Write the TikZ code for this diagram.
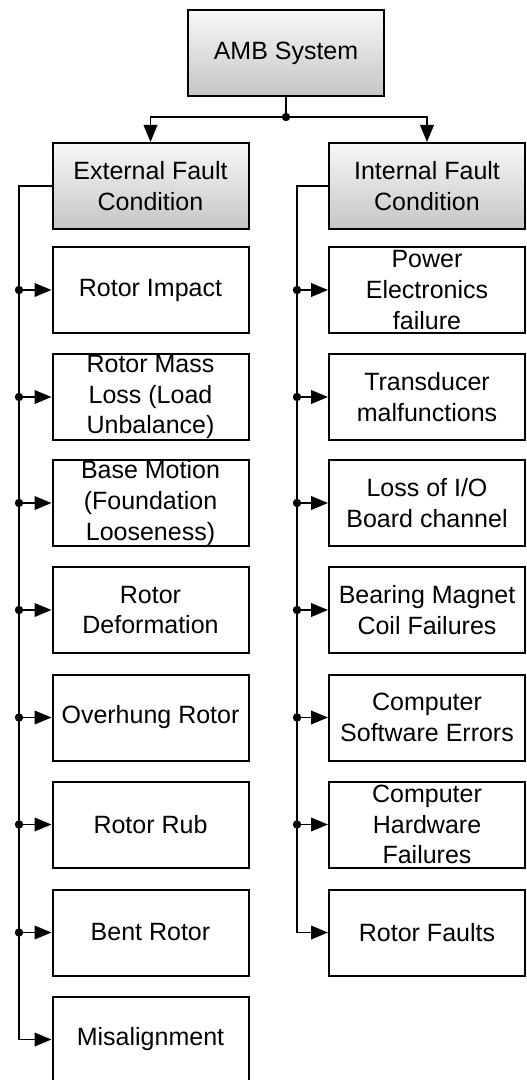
\documentclass[tikz,border=0pt]{standalone}
\usepackage{fontspec}
\setmainfont{Liberation Sans}
\usetikzlibrary{arrows.meta,calc}
\begin{document}
\begin{tikzpicture}[x=0.5pt,y=-0.5pt,
  box/.style={draw=black, line width=1pt, fill=white, minimum width=98pt, minimum height=43pt,
    inner sep=0pt, align=center, font=\fontsize{12.5pt}{15.4pt}\selectfont},
  gbox/.style={box, top color=gray!6, bottom color=gray!45},
  conn/.style={line width=0.95pt, draw=black},
  arr/.style={conn, -{Triangle[length=8.5pt,width=6.8pt]}},
  dot/.style={fill=black, circle, inner sep=0pt, minimum size=4.2pt}
]
\useasboundingbox (0,0) rectangle (526,1080);

\node[gbox] (amb) at (286,53) {AMB System};
\node[gbox] (ext) at (150.5,186) {External Fault\\Condition};
\node[gbox] (int) at (427,186) {Internal Fault\\Condition};

% left column
\node[box] (e1) at (150.5,290) {Rotor Impact};
\node[box] (e2) at (150.5,397) {Rotor Mass\\Loss (Load\\Unbalance)};
\node[box] (e3) at (150.5,503) {Base Motion\\(Foundation\\Looseness)};
\node[box] (e4) at (150.5,610) {Rotor\\Deformation};
\node[box] (e5) at (150.5,717.5) {Overhung Rotor};
\node[box] (e6) at (150.5,824.5) {Rotor Rub};
\node[box] (e7) at (150.5,932.5) {Bent Rotor};
\node[box] (e8) at (150.5,1039.5) {Misalignment};

% right column
\node[box] (i1) at (427,290) {Power\\Electronics\\failure};
\node[box] (i2) at (427,397) {Transducer\\malfunctions};
\node[box] (i3) at (427,503) {Loss of I/O\\Board channel};
\node[box] (i4) at (427,610) {Bearing Magnet\\Coil Failures};
\node[box] (i5) at (427,717.5) {Computer\\Software Errors};
\node[box] (i6) at (427,824.5) {Computer\\Hardware\\Failures};
\node[box] (i7) at (427,932.5) {Rotor Faults};

% top split
\coordinate (j) at (286,117);
\draw[conn] (amb.south) -- (j);
\draw[arr] (j) -| (ext.north);
\draw[arr] (j) -| (int.north);
\node[dot] at (j) {};

% left trunk
\coordinate (eL) at (19,186);
\draw[arr] (ext.west) -- (eL) |- (e8.west);
\foreach \n in {e1,e2,e3,e4,e5,e6,e7}{
  \coordinate (d\n) at (eL |- \n.west);
  \draw[arr] (d\n) -- (\n.west);
  \node[dot] at (d\n) {};
}

% right trunk
\coordinate (iL) at (297,186);
\draw[arr] (int.west) -- (iL) |- (i7.west);
\foreach \n in {i1,i2,i3,i4,i5,i6}{
  \coordinate (d\n) at (iL |- \n.west);
  \draw[arr] (d\n) -- (\n.west);
  \node[dot] at (d\n) {};
}
\end{tikzpicture}
\end{document}
